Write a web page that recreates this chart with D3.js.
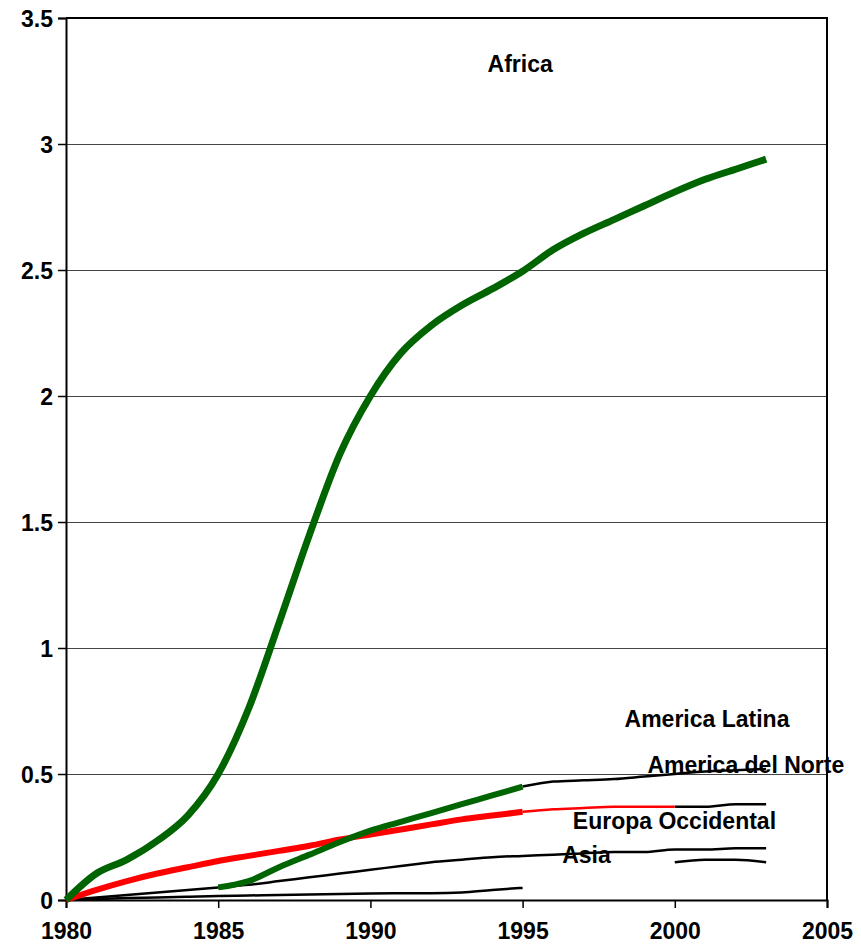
<!DOCTYPE html>
<html lang="es">
<head>
<meta charset="UTF-8">
<title>Africa vs regiones</title>
<style>
    html, body { margin: 0; padding: 0; background: #fff; overflow: hidden; }
    svg { display: block; }
    svg text { font-family: "Liberation Sans", Arial, sans-serif; font-weight: bold; fill: #000; }
    .tick text { font-size: 23px; }
    .serie-label { font-size: 23px; }
</style>
</head>
<body>
<svg width="861" height="948"></svg>
<script src="https://d3js.org/d3.v7.min.js"></script>
<script>

    // Axis ticks
    const xTicks = [1980, 1985, 1990, 1995, 2000, 2005];
    const yTicks = [0, 0.5, 1, 1.5, 2, 2.5, 3, 3.5];

    // Africa (thick green)
    const africaYears = [1980, 1981, 1982, 1983, 1984, 1985, 1986, 1987, 1988, 1989, 1990, 1991,
                         1992, 1993, 1994, 1995, 1996, 1997, 1998, 1999, 2000, 2001, 2002, 2003];
    const africaValues = [0, 0.105, 0.16, 0.235, 0.335, 0.50, 0.76, 1.10, 1.45, 1.77, 2.00, 2.17,
                          2.28, 2.36, 2.425, 2.495, 2.58, 2.645, 2.70, 2.755, 2.81, 2.86, 2.90, 2.94];

    // America Latina - thick green 1985-1995, then thin black
    const latinaYears = [1985, 1986, 1987, 1988, 1989, 1990, 1991, 1992, 1993, 1994, 1995];
    const latinaValues = [0.05, 0.075, 0.13, 0.18, 0.23, 0.275, 0.31, 0.345, 0.38, 0.415, 0.45];
    const latinaLateYears = [1995, 1996, 1997, 1998, 1999, 2000, 2001, 2002, 2003];
    const latinaLateValues = [0.45, 0.47, 0.475, 0.48, 0.49, 0.50, 0.51, 0.515, 0.52];

    // Red series: thick 1980-1995, thin 1995-2000, black 2000-2003
    const redYears = [1980, 1981, 1982, 1983, 1984, 1985, 1986, 1987, 1988, 1989, 1990, 1991,
                      1992, 1993, 1994, 1995];
    const redValues = [0, 0.04, 0.075, 0.105, 0.13, 0.155, 0.175, 0.195, 0.215, 0.24, 0.26, 0.28,
                       0.30, 0.32, 0.335, 0.35];
    const redMidYears = [1995, 1996, 1997, 1998, 1999, 2000];
    const redMidValues = [0.35, 0.36, 0.365, 0.37, 0.37, 0.37];
    const redLateYears = [2000, 2001, 2002, 2003];
    const redLateValues = [0.37, 0.37, 0.38, 0.38];

    // Thin black series
    const asiaYears = [1980, 1981, 1982, 1983, 1984, 1985, 1986, 1987, 1988, 1989, 1990, 1991,
                       1992, 1993, 1994, 1995, 1996, 1997, 1998, 1999, 2000, 2001, 2002, 2003];
    const asiaValues = [0, 0.01, 0.02, 0.03, 0.04, 0.05, 0.06, 0.075, 0.09, 0.105, 0.12, 0.135,
                        0.15, 0.16, 0.17, 0.175, 0.18, 0.185, 0.19, 0.19, 0.20, 0.20, 0.205, 0.205];
    const lowYears = [1980, 1981, 1982, 1983, 1984, 1985, 1986, 1987, 1988, 1989, 1990, 1991,
                      1992, 1993, 1994, 1995];
    const lowValues = [0, 0.004, 0.008, 0.01, 0.013, 0.016, 0.018, 0.02, 0.022, 0.024, 0.026, 0.027,
                       0.027, 0.03, 0.04, 0.048];
    const shortYears = [2000, 2001, 2002, 2003];
    const shortValues = [0.15, 0.16, 0.16, 0.15];

    // Text labels (anchor year, value)
    const labelTexts = ['Africa', 'America Latina', 'America del Norte', 'Europa Occidental', 'Asia'];
    const labelYears = [1993.85, 1998.35, 1999.1, 1996.65, 1996.3];
    const labelValues = [3.286, 0.687, 0.504, 0.282, 0.147];

    const margin = { left: 66, right: 34, top: 18, bottom: 48 };

    const svg = d3.select('svg');
    const width = +svg.attr('width');
    const height = +svg.attr('height');
    const innerWidth = width - margin.left - margin.right;
    const innerHeight = height - margin.top - margin.bottom;

    const xScale = d3.scaleLinear().domain([1980, 2005]).range([0, innerWidth]);
    const yScale = d3.scaleLinear().domain([0, 3.5]).range([innerHeight, 0]);

    const g = svg.append('g')
        .attr('transform', 'translate(' + margin.left + ',' + margin.top + ')');

    // gridlines
    g.append('g')
        .selectAll('line')
        .data(yTicks.slice(1, -1))
        .enter()
        .append('line')
        .attr('x1', 0)
        .attr('x2', innerWidth)
        .attr('y1', d => Math.round(yScale(d)) + 0.5)
        .attr('y2', d => Math.round(yScale(d)) + 0.5)
        .attr('stroke', '#444')
        .attr('stroke-width', 1.2);

    // frame top + right
    g.append('path')
        .attr('d', 'M0,' + yScale(3.5) + 'H' + xScale(2005) + 'V' + yScale(0))
        .attr('fill', 'none')
        .attr('stroke', '#000')
        .attr('stroke-width', 2);

    // y axis
    const yAxis = d3.axisLeft(yScale)
        .tickValues(yTicks)
        .tickFormat(d3.format('~g'))
        .tickSize(8)
        .tickPadding(5);
    const yAxisG = g.append('g').call(yAxis);
    yAxisG.select('.domain').attr('stroke-width', 2);
    yAxisG.selectAll('.tick line').attr('stroke-width', 1.5);
    yAxisG.selectAll('.tick text').attr('dy', '0.36em');

    // x axis (labels nudged up a bit so they stay inside the picture)
    const xAxis = d3.axisBottom(xScale)
        .tickValues(xTicks)
        .tickFormat(d3.format('d'))
        .tickSize(8)
        .tickPadding(15);
    const xAxisG = g.append('g')
        .attr('transform', 'translate(0,' + innerHeight + ')')
        .call(xAxis);
    xAxisG.select('.domain').attr('stroke-width', 2);
    xAxisG.selectAll('.tick line').attr('stroke-width', 1.5);

    // labels
    g.append('g')
        .selectAll('text')
        .data(labelTexts)
        .enter()
        .append('text')
        .attr('class', 'serie-label')
        .attr('x', (d, i) => xScale(labelYears[i]))
        .attr('y', (d, i) => yScale(labelValues[i]))
        .text(d => d);

    const line = d3.line()
        .x(d => xScale(d[0]))
        .y(d => yScale(d[1]))
        .curve(d3.curveMonotoneX);

    const zip = (xs, ys) => xs.map((x, i) => [x, ys[i]]);

    const series = [
        { pts: zip(lowYears, lowValues), color: '#000', w: 2.5 },
        { pts: zip(asiaYears, asiaValues), color: '#000', w: 2.5 },
        { pts: zip(shortYears, shortValues), color: '#000', w: 2.5 },
        { pts: zip(latinaLateYears, latinaLateValues), color: '#000', w: 2.5 },
        { pts: zip(redLateYears, redLateValues), color: '#000', w: 2.5 },
        { pts: zip(redMidYears, redMidValues), color: '#ff0000', w: 2.5 },
        { pts: zip(redYears, redValues), color: '#ff0000', w: 6 },
        { pts: zip(latinaYears, latinaValues), color: '#006400', w: 6 },
        { pts: zip(africaYears, africaValues), color: '#006400', w: 7 }
    ];

    g.append('g')
        .selectAll('path')
        .data(series)
        .enter()
        .append('path')
        .attr('d', d => line(d.pts))
        .attr('fill', 'none')
        .attr('stroke', d => d.color)
        .attr('stroke-width', d => d.w)
        .attr('stroke-linejoin', 'round');

</script>
</body>
</html>
